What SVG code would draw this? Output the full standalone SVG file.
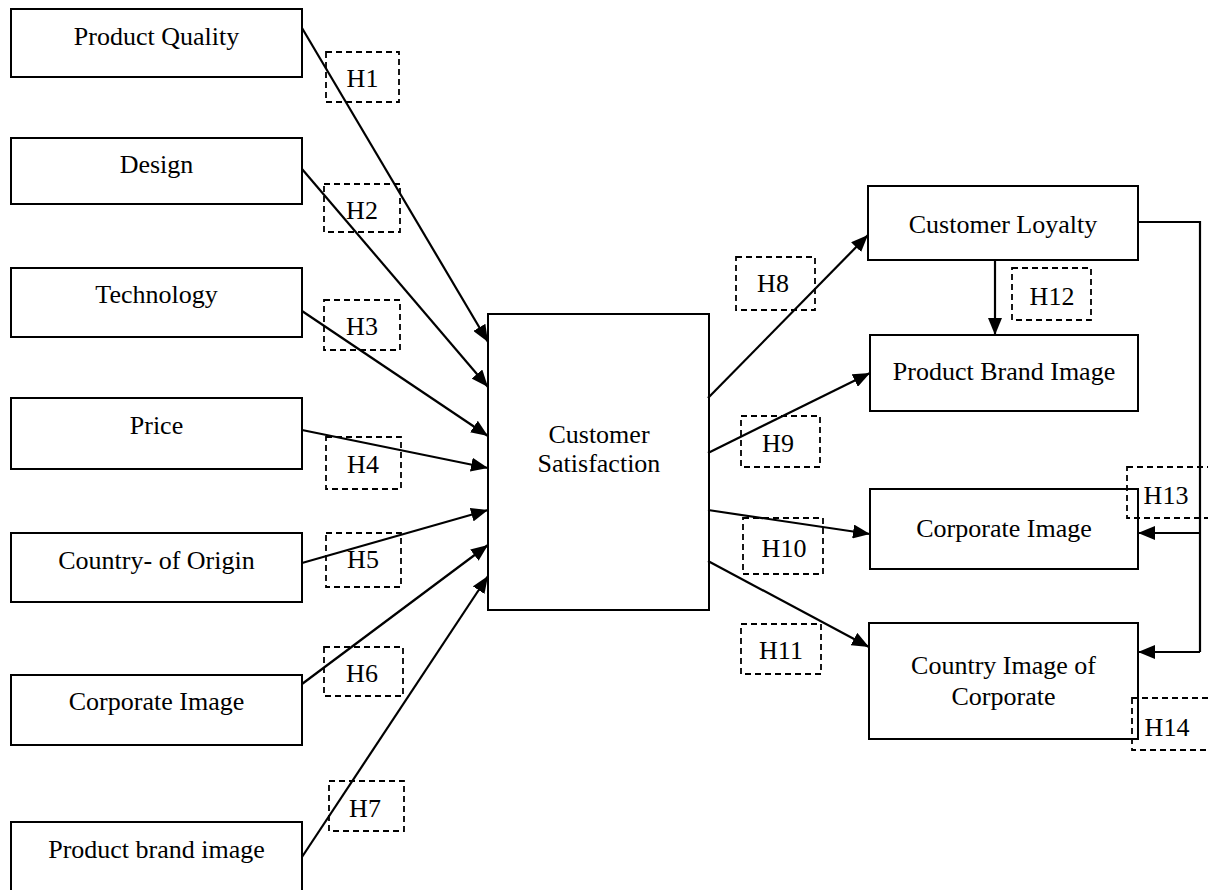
<svg xmlns="http://www.w3.org/2000/svg" width="1208" height="890" viewBox="0 0 1208 890">
<style>
.box{fill:#fff;stroke:#000;stroke-width:2}
.hb{fill:none;stroke:#000;stroke-width:1.8;stroke-dasharray:6,4}
.t{font-family:"Liberation Serif","Times New Roman",serif;font-size:26px;fill:#000;text-anchor:middle}
.ln{fill:none;stroke:#000;stroke-width:2.2}
.arr{fill:none;stroke:#000;stroke-width:2.2;marker-end:url(#ah)}
</style>
<defs>
<marker id="ah" markerUnits="userSpaceOnUse" markerWidth="18" markerHeight="14" refX="17" refY="7" orient="auto">
<path d="M0,0 L17,7 L0,14 z" fill="#000"/>
</marker>
</defs>
<rect width="1208" height="890" fill="#fff"/>
<g id="n-pq"><rect class="box" x="11" y="9" width="291" height="68"/><text class="t" x="156.5" y="45">Product Quality</text></g>
<g id="n-design"><rect class="box" x="11" y="138" width="291" height="66"/><text class="t" x="156.5" y="173">Design</text></g>
<g id="n-tech"><rect class="box" x="11" y="268" width="291" height="69"/><text class="t" x="156.5" y="303">Technology</text></g>
<g id="n-price"><rect class="box" x="11" y="398" width="291" height="71"/><text class="t" x="156.5" y="434">Price</text></g>
<g id="n-coo"><rect class="box" x="11" y="533" width="291" height="69"/><text class="t" x="156.5" y="569">Country- of Origin</text></g>
<g id="n-ci"><rect class="box" x="11" y="675" width="291" height="70"/><text class="t" x="156.5" y="710">Corporate Image</text></g>
<g id="n-pbi"><rect class="box" x="11" y="822" width="291" height="80"/><text class="t" x="156.5" y="858">Product brand image</text></g>
<g id="n-cs"><rect class="box" x="488" y="314" width="221" height="296"/><text class="t" x="599" y="443">Customer</text><text class="t" x="599" y="472">Satisfaction</text></g>
<g id="n-cl"><rect class="box" x="868" y="186" width="270" height="74"/><text class="t" x="1003" y="233">Customer Loyalty</text></g>
<g id="n-pbi2"><rect class="box" x="870" y="335" width="268" height="76"/><text class="t" x="1004" y="380">Product Brand Image</text></g>
<g id="n-ci2"><rect class="box" x="870" y="489" width="268" height="80"/><text class="t" x="1004" y="537">Corporate Image</text></g>
<g id="n-cic"><rect class="box" x="869" y="623" width="269" height="116"/><text class="t" x="1003.5" y="674">Country Image of</text><text class="t" x="1003.5" y="705">Corporate</text></g>
<g id="connectors">
<line class="arr" x1="302" y1="28" x2="488" y2="342"/>
<line class="arr" x1="302" y1="169" x2="488" y2="387"/>
<line class="arr" x1="302" y1="311" x2="488" y2="436"/>
<line class="arr" x1="302" y1="430" x2="488" y2="468"/>
<line class="arr" x1="302" y1="563" x2="488" y2="510"/>
<line class="arr" x1="302" y1="684" x2="488" y2="545"/>
<line class="arr" x1="302" y1="857" x2="488" y2="576"/>
<line class="arr" x1="708" y1="398" x2="868" y2="235"/>
<line class="arr" x1="708" y1="453" x2="870" y2="373"/>
<line class="arr" x1="708" y1="510" x2="870" y2="534"/>
<line class="arr" x1="708" y1="561" x2="869" y2="647"/>
<line class="arr" x1="995" y1="260" x2="995" y2="335"/>
<polyline class="ln" points="1138,222 1200,222 1200,652"/>
<line class="arr" x1="1200" y1="533" x2="1138" y2="533"/>
<line class="arr" x1="1200" y1="652" x2="1138" y2="652"/>
</g>
<g id="h1"><rect class="hb" x="326" y="52" width="73" height="50"/><text class="t" x="362.5" y="87">H1</text></g>
<g id="h2"><rect class="hb" x="324" y="184" width="76" height="48"/><text class="t" x="362" y="219">H2</text></g>
<g id="h3"><rect class="hb" x="324" y="300" width="76" height="50"/><text class="t" x="362" y="335">H3</text></g>
<g id="h4"><rect class="hb" x="326" y="437" width="75" height="52"/><text class="t" x="363" y="473">H4</text></g>
<g id="h5"><rect class="hb" x="326" y="533" width="75" height="54"/><text class="t" x="363" y="568">H5</text></g>
<g id="h6"><rect class="hb" x="324" y="647" width="79" height="49"/><text class="t" x="362" y="682">H6</text></g>
<g id="h7"><rect class="hb" x="329" y="781" width="75" height="50"/><text class="t" x="365" y="817">H7</text></g>
<g id="h8"><rect class="hb" x="736" y="257" width="79" height="53"/><text class="t" x="773" y="292">H8</text></g>
<g id="h9"><rect class="hb" x="741" y="416" width="79" height="51"/><text class="t" x="778" y="452">H9</text></g>
<g id="h10"><rect class="hb" x="743" y="518" width="80" height="56"/><text class="t" x="784" y="557">H10</text></g>
<g id="h11"><rect class="hb" x="741" y="624" width="80" height="50"/><text class="t" x="781" y="659">H11</text></g>
<g id="h12"><rect class="hb" x="1012" y="268" width="79" height="52"/><text class="t" x="1052" y="305">H12</text></g>
<g id="h13"><rect class="hb" x="1127" y="467" width="86" height="51"/><text class="t" x="1166" y="504">H13</text></g>
<g id="h14"><rect class="hb" x="1132" y="698" width="81" height="52"/><text class="t" x="1167" y="736">H14</text></g>
</svg>
